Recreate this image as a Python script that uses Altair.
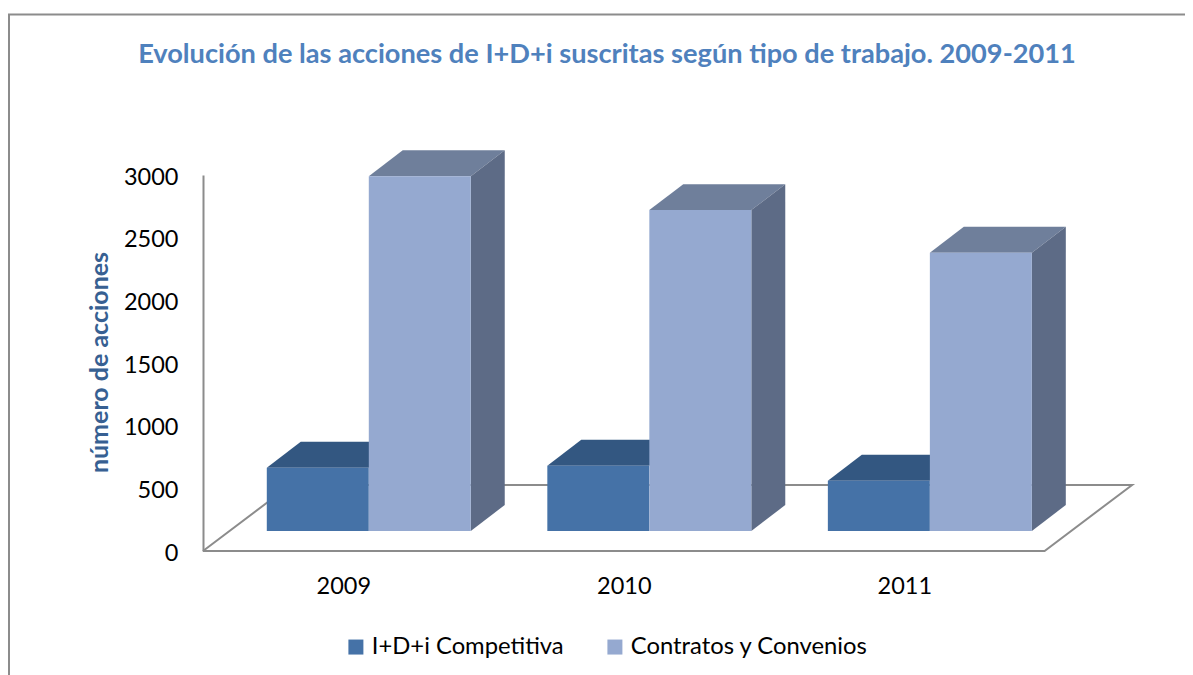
import altair as alt
import pandas as pd

YEARS = ["2009", "2010", "2011"]
SERIES = ["I+D+i Competitiva", "Contratos y Convenios"]
COMPETITIVA = [505, 520, 400]
CONTRATOS = [2830, 2560, 2220]
Y_TICKS = [0, 500, 1000, 1500, 2000, 2500, 3000]

# Colours
C_FRONT = ["#4572A7", "#95A9D0"]
C_TOP = ["#335781", "#6F7F9B"]
C_SIDE = "#5D6B86"
C_GREY = "#8C8C8C"
FONT = "Lato"

# 3-D projection of the original chart, in axis units
GAP_WIDTH = 0.3636        # bar width in category units
DEPTH_X_FLOOR = 0.312     # floor depth, category units
DEPTH_Y_FLOOR = 527       # floor depth, value units
BAR_SHIFT_X = 0.091
BAR_SHIFT_Y = 160
BAR_DEPTH_X = 0.121
BAR_DEPTH_Y = 207

front, top, side = [], [], []
for i, year in enumerate(YEARS):
    for s, vals in enumerate([COMPETITIVA, CONTRATOS]):
        v = vals[i]
        x0 = i + BAR_SHIFT_X + (s - 1) * GAP_WIDTH
        x1 = x0 + GAP_WIDTH
        b = BAR_SHIFT_Y
        t = b + v
        key = f"{year}-{s}"
        front.append(dict(x=x0, x2=x1, y=b, y2=t, series=SERIES[s]))
        for px, lo, up in [
            (x0, t, t),
            (x0 + BAR_DEPTH_X, t, t + BAR_DEPTH_Y),
            (x1, t, t + BAR_DEPTH_Y),
            (x1 + BAR_DEPTH_X, t + BAR_DEPTH_Y, t + BAR_DEPTH_Y),
        ]:
            top.append(dict(x=px, lo=lo, up=up, key=key, s=s))
        if s == 1:
            side.append(dict(x=x1, lo=b, up=t, key=key))
            side.append(dict(x=x1 + BAR_DEPTH_X, lo=b + BAR_DEPTH_Y, up=t + BAR_DEPTH_Y, key=key))

floor = pd.DataFrame([
    dict(x=-0.5, y=0, o=0),
    dict(x=2.5, y=0, o=1),
    dict(x=2.5 + DEPTH_X_FLOOR, y=DEPTH_Y_FLOOR, o=2),
    dict(x=-0.5 + DEPTH_X_FLOOR, y=DEPTH_Y_FLOOR, o=3),
    dict(x=-0.5, y=0, o=4),
])
front = pd.DataFrame(front)
top = pd.DataFrame(top)
side = pd.DataFrame(side)

xs = alt.Scale(domain=[-0.5, 2.808], nice=False, zero=False)
ys = alt.Scale(domain=[0, 3000], nice=False, zero=False)

labels_js = "[" + ",".join(f"'{y}'" for y in YEARS) + "][datum.value]"

x_axis = alt.Axis(
    values=[0, 1, 2], labelExpr=labels_js, domain=False, ticks=False, grid=False,
    title=None, labelFont=FONT, labelFontSize=23.5, labelColor="#000000", labelPadding=23)
y_axis = alt.Axis(
    values=Y_TICKS, format="d", domain=True, domainColor=C_GREY, domainWidth=2,
    ticks=False, grid=False, labelFont=FONT, labelFontSize=23.5, labelColor="#000000",
    labelPadding=25, labelOffset=2, title="número de acciones", titleFont=FONT, titleFontSize=25,
    titleFontWeight="bold", titleColor="#376092", titleX=-91, titleY=187)

floor_layer = alt.Chart(floor).mark_line(color=C_GREY, strokeWidth=2).encode(
    x=alt.X("x:Q", scale=xs, axis=x_axis),
    y=alt.Y("y:Q", scale=ys, axis=y_axis),
    order="o:Q",
)

def area_layer(df, color):
    return alt.Chart(df).mark_area(color=color, opacity=1).encode(
        x=alt.X("x:Q", scale=xs, axis=x_axis),
        y=alt.Y("lo:Q", scale=ys, axis=y_axis),
        y2="up:Q",
        detail="key:N",
    )

top_comp = area_layer(top[top.s == 0], C_TOP[0])
top_cont = area_layer(top[top.s == 1], C_TOP[1])
side_layer = area_layer(side, C_SIDE)

color = alt.Color("series:N", scale=alt.Scale(domain=SERIES, range=C_FRONT), legend=alt.Legend(
    title=None, orient="none", legendX=141, legendY=460, direction="horizontal", columns=2,
    symbolType="square", symbolSize=225, symbolStrokeWidth=0, labelFont=FONT, labelFontSize=23.8,
    labelColor="#000000", columnPadding=39, labelOffset=4, labelLimit=300, symbolOpacity=1))

def front_layer(series):
    return alt.Chart(front[front.series == series]).mark_rect(opacity=1).encode(
        x=alt.X("x:Q", scale=xs, axis=x_axis),
        x2="x2:Q",
        y=alt.Y("y:Q", scale=ys, axis=y_axis),
        y2="y2:Q",
        color=color,
    )

frame_left = alt.Chart().mark_rule(color=C_GREY, strokeWidth=2).encode(
    x=alt.value(-194), y=alt.value(-161), y2=alt.value(500))
frame_top = alt.Chart().mark_rule(color=C_GREY, strokeWidth=2).encode(
    y=alt.value(-160.5), x=alt.value(-195), x2=alt.value(990))

chart = alt.layer(
    floor_layer,
    top_comp, front_layer(SERIES[0]),
    top_cont, side_layer, front_layer(SERIES[1]),
    frame_left, frame_top,
).properties(
    width=928, height=376,
    padding={"left": 195, "top": 167, "right": 54, "bottom": 124},
    autosize=alt.AutoSizeParams(type="none"),
    title=alt.TitleParams(
        "Evolución de las acciones de I+D+i  suscritas según tipo de trabajo. 2009-2011",
        font=FONT, fontSize=27.2, fontWeight="bold", color="#4F81BD",
        anchor="middle", dx=-60, offset=-56),
).configure_view(stroke=None)

chart.save("out.html", embed_options={"renderer": "svg", "actions": False})
